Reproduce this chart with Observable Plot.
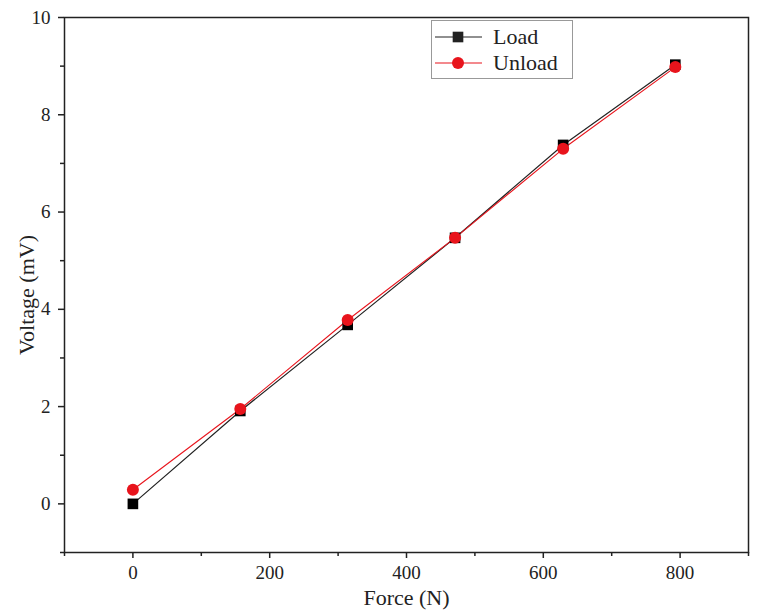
<!DOCTYPE html>
<html>
<head>
<meta charset="utf-8">
<script src="https://cdn.jsdelivr.net/npm/d3@7"></script>
<script src="https://cdn.jsdelivr.net/npm/@observablehq/plot@0.6"></script>
<style>
  html, body { margin: 0; padding: 0; background: #fff; }
  #chart { position: relative; width: 759px; height: 614px; }
</style>
</head>
<body>
<div id="chart"></div>
<script>
const force = [0, 157, 314, 471, 629, 793];
const loadVoltage = [0.0, 1.91, 3.68, 5.47, 7.38, 9.03];
const unloadVoltage = [0.29, 1.95, 3.78, 5.47, 7.30, 8.98];
const seriesNames = ["Load", "Unload"];
const xTicks = [0, 200, 400, 600, 800];
const xMinorTicks = [-100, 100, 300, 500, 700, 900];
const yTicks = [0, 2, 4, 6, 8, 10];
const yMinorTicks = [-1, 1, 3, 5, 7, 9];

const RED = "#e8141c";
const loadData = force.map((f, i) => ({force: f, voltage: loadVoltage[i]}));
const unloadData = force.map((f, i) => ({force: f, voltage: unloadVoltage[i]}));

const font = "'Liberation Serif', 'DejaVu Serif', serif";

const plot = Plot.plot({
  width: 759,
  height: 614,
  marginLeft: 64,
  marginRight: 11,
  marginTop: 17,
  marginBottom: 62,
  style: {fontFamily: font, fontSize: "19px", color: "#222", background: "white"},
  x: {domain: [-100, 900]},
  y: {domain: [-1, 10]},
  marks: [
    Plot.axisX({ticks: xMinorTicks, tickSize: 4, text: null, label: null, strokeWidth: 1.5, stroke: "#222"}),
    Plot.axisY({ticks: yMinorTicks, tickSize: 4, text: null, label: null, strokeWidth: 1.5, stroke: "#222"}),
    Plot.axisX({ticks: xTicks, tickSize: 6, tickPadding: 7, strokeWidth: 1.5, stroke: "#222", fill: "#222", label: null}),
    Plot.axisY({ticks: yTicks, tickSize: 6, tickPadding: 8, strokeWidth: 1.5, stroke: "#222", fill: "#222", label: null}),
    Plot.text(["Force (N)"], {frameAnchor: "bottom", dy: 52, fontSize: 22, fill: "#222"}),
    Plot.text(["Voltage (mV)"], {frameAnchor: "left", textAnchor: "middle", dx: -38, dy: 10, rotate: -90, fontSize: 22, fill: "#222"}),
    Plot.frame({stroke: "#222", strokeWidth: 1.5}),
    Plot.line(loadData, {x: "force", y: "voltage", stroke: "#222", strokeWidth: 1.2}),
    Plot.line(unloadData, {x: "force", y: "voltage", stroke: RED, strokeWidth: 1.1}),
    Plot.dot(loadData, {x: "force", y: "voltage", symbol: "square", r: 6, fill: "black", stroke: "none"}),
    Plot.dot(unloadData, {x: "force", y: "voltage", symbol: "circle", r: 6, fill: RED, stroke: "none"})
  ]
});

document.getElementById("chart").appendChild(plot);

// Legend drawn inside the plot's SVG
const svg = d3.select(plot);
const lg = svg.append("g");
lg.append("rect").attr("x", 431.5).attr("y", 20.5).attr("width", 141).attr("height", 58)
  .attr("fill", "white").attr("stroke", "#999").attr("stroke-width", 1);
const entries = [
  {name: seriesNames[0], color: "#222", sym: d3.symbolSquare, y: 37},
  {name: seriesNames[1], color: RED, sym: d3.symbolCircle, y: 63}
];
entries.forEach(e => {
  lg.append("line").attr("x1", 435).attr("x2", 482).attr("y1", e.y).attr("y2", e.y)
    .attr("stroke", e.color).attr("stroke-width", 1.2);
  lg.append("path").attr("d", d3.symbol(e.sym, 6 * 6 * Math.PI)())
    .attr("transform", `translate(458,${e.y})`).attr("fill", e.color);
  lg.append("text").attr("x", 493).attr("y", e.y).attr("dy", "0.3em")
    .style("text-anchor", "start").style("font-family", font).style("font-size", "22px")
    .style("fill", "#222").text(e.name);
});
</script>
</body>
</html>
